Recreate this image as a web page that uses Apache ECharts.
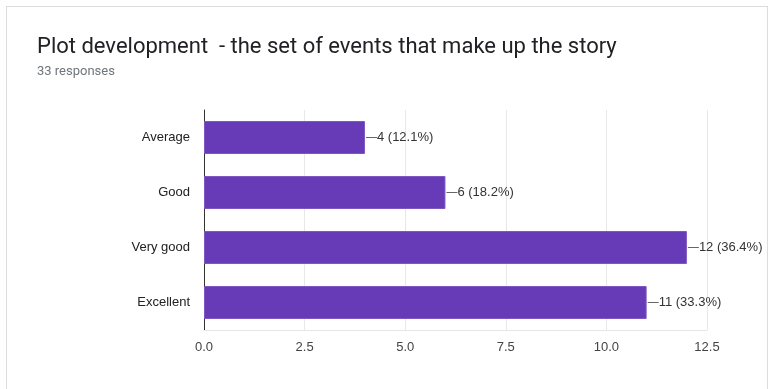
<!DOCTYPE html>
<html>
<head>
<meta charset="utf-8">
<script src="https://cdn.jsdelivr.net/npm/echarts@6/dist/echarts.min.js"></script>
<style>
  html, body { margin: 0; padding: 0; background: #ffffff; }
  #card { position: absolute; left: 6px; top: 6px; width: 762px; height: 400px; border: 1px solid #dadce0; box-sizing: border-box; }
  #chart { position: absolute; left: 0; top: 0; width: 774px; height: 389px; }
</style>
</head>
<body>
<div id="card"></div>
<div id="chart"></div>
<script>
// Survey question results
const titleText = 'Plot development  - the set of events that make up the story';
const subtitleText = '33 responses';
const categories = ['Average', 'Good', 'Very good', 'Excellent'];
const counts = [4, 6, 12, 11];
const totalResponses = 33;
const xTicks = [0, 2.5, 5, 7.5, 10, 12.5];

const chart = echarts.init(document.getElementById('chart'), null, { renderer: 'canvas' });

chart.setOption({
  animation: false,
  backgroundColor: 'transparent',
  title: [
    {
      text: titleText,
      left: 32, top: 31,
      textStyle: { fontFamily: 'Roboto', fontSize: 22, fontWeight: 'normal', color: '#202124' }
    },
    {
      text: subtitleText,
      left: 32, top: 60,
      textStyle: { fontFamily: 'Roboto', fontSize: 13, fontWeight: 'normal', color: '#70757a' }
    }
  ],
  grid: { left: 204, right: 67, top: 110, height: 220, containLabel: false },
  xAxis: {
    type: 'value',
    min: xTicks[0],
    max: xTicks[xTicks.length - 1],
    interval: 2.5,
    axisLine: { show: true, lineStyle: { color: '#e6e6e6' } },
    axisTick: { show: false },
    splitLine: { show: true, lineStyle: { color: '#e8e8e8', width: 1 } },
    axisLabel: {
      margin: 11,
      color: '#444',
      fontFamily: 'Arial',
      fontSize: 13,
      formatter: v => v.toFixed(1)
    }
  },
  yAxis: {
    type: 'category',
    data: categories,
    inverse: true,
    axisLine: { show: true, lineStyle: { color: '#333', width: 1 } },
    axisTick: { show: false },
    axisLabel: { margin: 14, color: '#222', fontFamily: 'Arial', fontSize: 13 }
  },
  series: [{
    type: 'bar',
    data: counts,
    barWidth: '60%',
    itemStyle: { color: '#673ab7', borderColor: '#7e57c2', borderWidth: 1 },
    label: {
      show: true,
      position: 'right',
      distance: 1,
      fontFamily: 'Arial',
      fontSize: 13,
      color: '#333',
      formatter: p => '{ln|}' + p.value + ' (' + (p.value / totalResponses * 100).toFixed(1) + '%)',
      rich: {
        ln: { width: 11, height: 1, backgroundColor: '#666', verticalAlign: 'middle' }
      }
    }
  }]
});
</script>
</body>
</html>
